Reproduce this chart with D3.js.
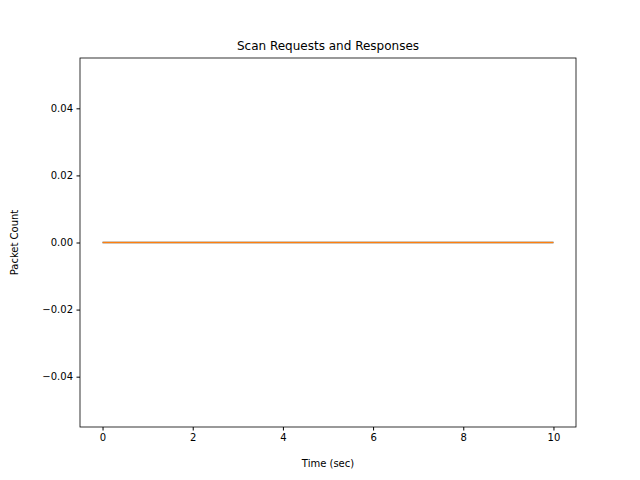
<!DOCTYPE html>
<html>
<head>
<meta charset="utf-8">
<script src="https://cdn.jsdelivr.net/npm/d3@7"></script>
<style>
body { margin: 0; background: #fff; }
text { font-family: "DejaVu Sans", sans-serif; }
</style>
</head>
<body>
<div id="chart"></div>
<script>
let times = [0, 1, 2, 3, 4, 5, 6, 7, 8, 9, 10];
let requests = [0, 0, 0, 0, 0, 0, 0, 0, 0, 0, 0];
let responses = [0, 0, 0, 0, 0, 0, 0, 0, 0, 0, 0];
let xTicks = [0, 2, 4, 6, 8, 10];
let yTicks = [-0.04, -0.02, 0, 0.02, 0.04];

let width = 640, height = 480;
let plotLeft = 80, plotRight = 576, plotTop = 58, plotBottom = 427;

let svg = d3.select("#chart").append("svg")
    .attr("width", width).attr("height", height);

let xScale = d3.scaleLinear().domain([-0.5, 10.5]).range([plotLeft, plotRight]);
let yScale = d3.scaleLinear().domain([-0.055, 0.055]).range([plotBottom, plotTop]);

let xAxis = d3.axisBottom(xScale).tickValues(xTicks).tickSize(3.5).tickPadding(3.5)
    .tickFormat(d3.format("d"));
let yAxis = d3.axisLeft(yScale).tickValues(yTicks).tickSize(3.5).tickPadding(3.5)
    .tickFormat(d => Math.abs(d) < 1e-9 ? "0.00" : d3.format(".2f")(d).replace("-", "\u2212"));

svg.append("g").attr("transform", `translate(0, ${plotBottom})`).call(xAxis)
    .call(g => g.select(".domain").remove())
    .selectAll("text").attr("font-size", 10).attr("fill", "#000");
svg.append("g").attr("transform", `translate(${plotLeft}, 0)`).call(yAxis)
    .call(g => g.select(".domain").remove())
    .selectAll("text").attr("font-size", 10).attr("fill", "#000");

let line = d3.line().x((d, i) => xScale(times[i])).y(d => yScale(d));

svg.append("path").datum(requests).attr("d", line)
    .attr("fill", "none").attr("stroke", "#1f77b4").attr("stroke-width", 1.5);
svg.append("path").datum(responses).attr("d", line)
    .attr("fill", "none").attr("stroke", "#ff7f0e").attr("stroke-width", 1.5);

svg.append("rect").attr("x", plotLeft).attr("y", plotTop)
    .attr("width", plotRight - plotLeft).attr("height", plotBottom - plotTop)
    .attr("fill", "none").attr("stroke", "#000").attr("stroke-width", 0.8);

svg.append("text").attr("x", (plotLeft + plotRight) / 2).attr("y", plotTop - 8)
    .attr("text-anchor", "middle").attr("font-size", 12).text("Scan Requests and Responses");
svg.append("text").attr("x", (plotLeft + plotRight) / 2).attr("y", 467)
    .attr("text-anchor", "middle").attr("font-size", 10).text("Time (sec)");
svg.append("text").attr("transform", `translate(18, ${(plotTop + plotBottom) / 2}) rotate(-90)`)
    .attr("text-anchor", "middle").attr("font-size", 10).text("Packet Count");
</script>
</body>
</html>
